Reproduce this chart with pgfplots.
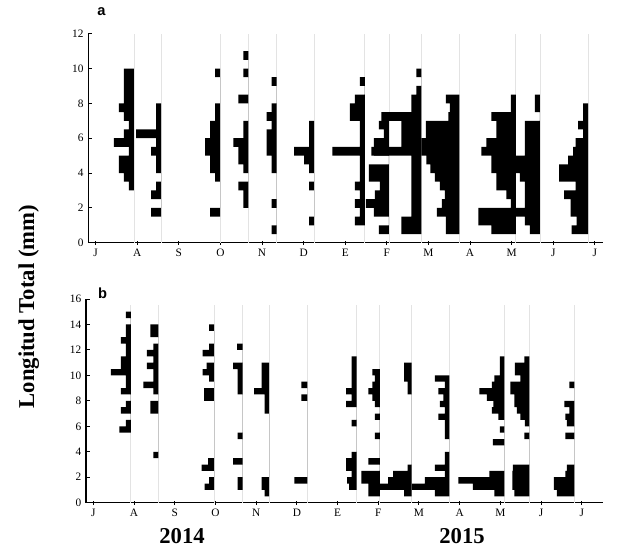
\documentclass[border=0pt]{standalone}
\usepackage{fontspec}
\setmainfont{Liberation Serif}
\newfontfamily\sansb{Liberation Sans}
\usepackage{pgfplots}
\pgfplotsset{compat=1.18}

% horizontal length-frequency histogram drawn leftwards from the sampling date x0
% #1 = x0 (months), #2 = lowest bin edge (mm), #3 = months per count, #4 = widths (first and last 0)
\newcommand{\hb}[4]{\addplot[fill=black,draw=none,const plot mark right,forget plot]
  table[header=false,row sep=\\,x expr={#1-#3*\thisrowno{0}},y expr={#2+0.5*max(\coordindex-1,0)}] {#4};}
\newcommand{\gl}[2]{\addplot[color=black!11,line width=0.6pt,forget plot] coordinates {(#1,0) (#1,#2)};}

\pgfplotsset{common/.style={scale only axis, axis lines*=left,
  axis line style={line width=0.9pt,-},
  xmin=-0.18, ymin=0,
  xtick={0,...,12}, xticklabels={J,A,S,O,N,D,E,F,M,A,M,J,J},
  tick style={black,line width=0.7pt}, major tick length=3pt,
  xtick align=center, ytick align=inside,
  tick label style={font=\fontsize{8.5}{9}\selectfont},
  /pgf/number format/assume math mode=true}}

\begin{document}
\begin{tikzpicture}
\useasboundingbox (0pt,0pt) rectangle (468pt,-411.75pt);
% ---------------- panel a ----------------
\begin{axis}[common, at={(66.15pt,-182.03pt)}, anchor=south west,
  width=386.25pt, height=156.75pt, xmax=12.2, ymax=12, ytick={0,2,...,12}]
\gl{0.92}{12}\gl{1.57}{12}\gl{2.99}{12}\gl{3.67}{12}\gl{4.35}{12}\gl{5.25}{12}
\gl{6.47}{12}\gl{7.05}{12}\gl{7.83}{12}\gl{8.74}{12}\gl{10.1}{12}\gl{10.68}{12}\gl{11.84}{12}
\hb{0.92}{3.0}{0.1202}{0\\1\\2\\3\\3\\1\\4\\2\\1\\2\\3\\2\\2\\2\\2\\0\\}
\hb{1.57}{1.5}{0.1202}{0\\2\\0\\2\\1\\0\\1\\1\\2\\1\\5\\1\\1\\1\\0\\}
\hb{2.99}{1.5}{0.1202}{0\\2\\0\\0\\0\\1\\2\\2\\3\\3\\2\\2\\1\\1\\0\\0\\0\\1\\0\\}
\hb{3.67}{2.0}{0.1202}{0\\1\\1\\2\\0\\1\\2\\2\\3\\1\\1\\0\\0\\2\\0\\0\\1\\0\\1\\0\\}
\hb{4.35}{0.5}{0.1202}{0\\1\\0\\0\\1\\0\\0\\0\\1\\1\\2\\2\\2\\1\\2\\1\\0\\0\\1\\0\\}
\hb{5.25}{1.0}{0.1202}{0\\1\\0\\0\\0\\1\\0\\1\\2\\4\\1\\1\\1\\0\\}
\hb{6.47}{1.0}{0.1202}{0\\2\\1\\2\\1\\2\\1\\1\\1\\6.5\\1\\1\\1\\3\\3\\2\\0\\1\\0\\}
\hb{7.05}{0.5}{0.1202}{0\\2\\0\\3\\4.6\\2.8\\1.8\\4\\4\\0\\3\\3\\1\\2\\1\\0\\}
\hb{7.83}{0.5}{0.1202}{0\\4\\4\\2\\2\\2\\2\\2\\2\\2\\10\\4\\4\\4\\8\\2\\2\\1\\0\\1\\0\\}
\hb{8.74}{0.5}{0.1202}{0\\2.7\\2.7\\4.5\\3.5\\2.9\\3.9\\4.9\\5.8\\6.6\\7.6\\7.6\\6.7\\6.7\\2.2\\1.9\\2.7\\0\\}
\hb{10.1}{0.5}{0.1202}{0\\4.9\\7.5\\7.5\\1\\1.9\\3.9\\3.9\\4.9\\4.9\\6.9\\5.9\\3.9\\3.9\\4.9\\1\\1\\0\\}
\hb{10.68}{0.5}{0.1202}{0\\2\\3\\5\\3\\3\\3\\4\\5\\5\\3\\3\\3\\3\\0\\1\\1\\0\\}
\hb{11.84}{0.5}{0.1202}{0\\3.3\\2.3\\3.5\\3.5\\4.8\\2.5\\5.8\\5.8\\4\\3\\2.5\\1\\2\\1\\1\\0\\}
\end{axis}
% ---------------- panel b ----------------
\begin{axis}[common, at={(64.5pt,-377.03pt)}, anchor=south west,
  width=387.7pt, height=152.8pt, xmax=12.52, ymax=16, ytick={0,2,...,16}]
\gl{0.92}{15.5}\gl{1.60}{15.5}\gl{2.97}{15.5}\gl{3.67}{15.5}\gl{4.32}{15.5}\gl{5.26}{15.5}
\gl{6.47}{15.5}\gl{7.04}{15.5}\gl{7.82}{15.5}\gl{8.75}{15.5}\gl{10.1}{15.5}\gl{10.71}{15.5}\gl{11.82}{15.5}
\hb{0.92}{5.5}{0.1229}{0\\2.3\\1\\0\\2\\1\\0\\2\\1\\1\\4\\2\\2\\1\\1\\2\\1\\1\\0\\1\\0\\}
\hb{1.60}{3.5}{0.1229}{0\\1\\0\\0\\0\\0\\0\\0\\1.6\\1.6\\0\\1\\3\\1\\1\\2.3\\1\\2.3\\1\\0\\1.6\\1.6\\0\\}
\hb{2.97}{1.0}{0.1229}{0\\1.9\\1\\0\\2.5\\1.2\\0\\0\\0\\0\\0\\0\\0\\0\\0\\2\\2\\0\\1\\2.3\\1.5\\0\\2.3\\1\\0\\0\\1\\0\\}
\hb{3.67}{1.0}{0.1229}{0\\1\\1\\0\\0\\1.9\\0\\0\\0\\1\\0\\0\\0\\0\\0\\0\\1\\1\\1\\1\\1.9\\0\\0\\1.1\\0\\}
\hb{4.32}{0.5}{0.1229}{0\\0.9\\1.5\\1.5\\0\\0\\0\\0\\0\\0\\0\\0\\0\\0\\0.9\\0.9\\0.9\\3\\1.5\\1.5\\1.5\\1.5\\0\\}
\hb{5.26}{1.5}{0.1229}{0\\2.6\\0\\0\\0\\0\\0\\0\\0\\0\\0\\0\\0\\0\\1.2\\0\\1.2\\0\\}
\hb{6.47}{1.0}{0.1229}{0\\1.5\\1.9\\1\\2.1\\2.1\\1\\0\\0\\0\\0\\1\\0\\0\\2.1\\1\\2.1\\1\\1\\1\\1\\1\\0\\}
\hb{7.04}{0.5}{0.1229}{0\\2.3\\2.3\\3.7\\3.7\\0\\2.3\\0\\0\\0\\1\\0\\0\\1\\0\\1\\1.5\\2.3\\1.5\\1\\1.5\\0\\}
\hb{7.82}{0.5}{0.1229}{0\\1.5\\6.3\\4.7\\3.7\\0.8\\0\\0\\0\\0\\0\\0\\0\\0\\0\\0\\0\\0.8\\0.8\\1.5\\1.5\\1.5\\0\\}
\hb{8.75}{0.5}{0.1229}{0\\2.9\\7.5\\4.9\\0.9\\2.9\\0.9\\0.9\\0\\0\\0.9\\0.9\\0.9\\2.2\\0.9\\1.9\\1.2\\2.2\\0.9\\2.9\\0\\}
\hb{10.1}{0.5}{0.1229}{0\\2\\6.3\\9.2\\3\\0\\0\\0\\0\\2.3\\0\\0.9\\0\\1.2\\2.5\\2.2\\3.5\\5\\2.5\\2\\0.9\\0.9\\0.9\\0\\}
\hb{10.71}{0.5}{0.1229}{0\\3\\3.4\\3.4\\3.4\\3.3\\0\\0\\0\\0\\1\\0\\0.9\\1.8\\2.5\\3\\3\\3.8\\3.8\\1.8\\2.9\\2.9\\1\\0\\}
\hb{11.82}{0.5}{0.1229}{0\\3.5\\4.1\\4.1\\1.8\\1.5\\0\\0\\0\\0\\1.8\\0\\1.5\\1.8\\1\\2\\0\\0\\1\\0\\}
\end{axis}
% ---------------- labels ----------------
\node[font=\sansb\bfseries\fontsize{11}{12}\selectfont] at (76pt,-9pt) {a};
\node[font=\sansb\bfseries\fontsize{11}{12}\selectfont] at (77pt,-220pt) {b};
\node[rotate=90,font=\bfseries\fontsize{17}{19}\selectfont] at (21.5pt,-230pt) {Longitud Total (mm)};
\node[font=\bfseries\fontsize{17}{19}\selectfont] at (136.5pt,-402pt) {2014};
\node[font=\bfseries\fontsize{17}{19}\selectfont] at (346.5pt,-402pt) {2015};
\end{tikzpicture}
\end{document}
